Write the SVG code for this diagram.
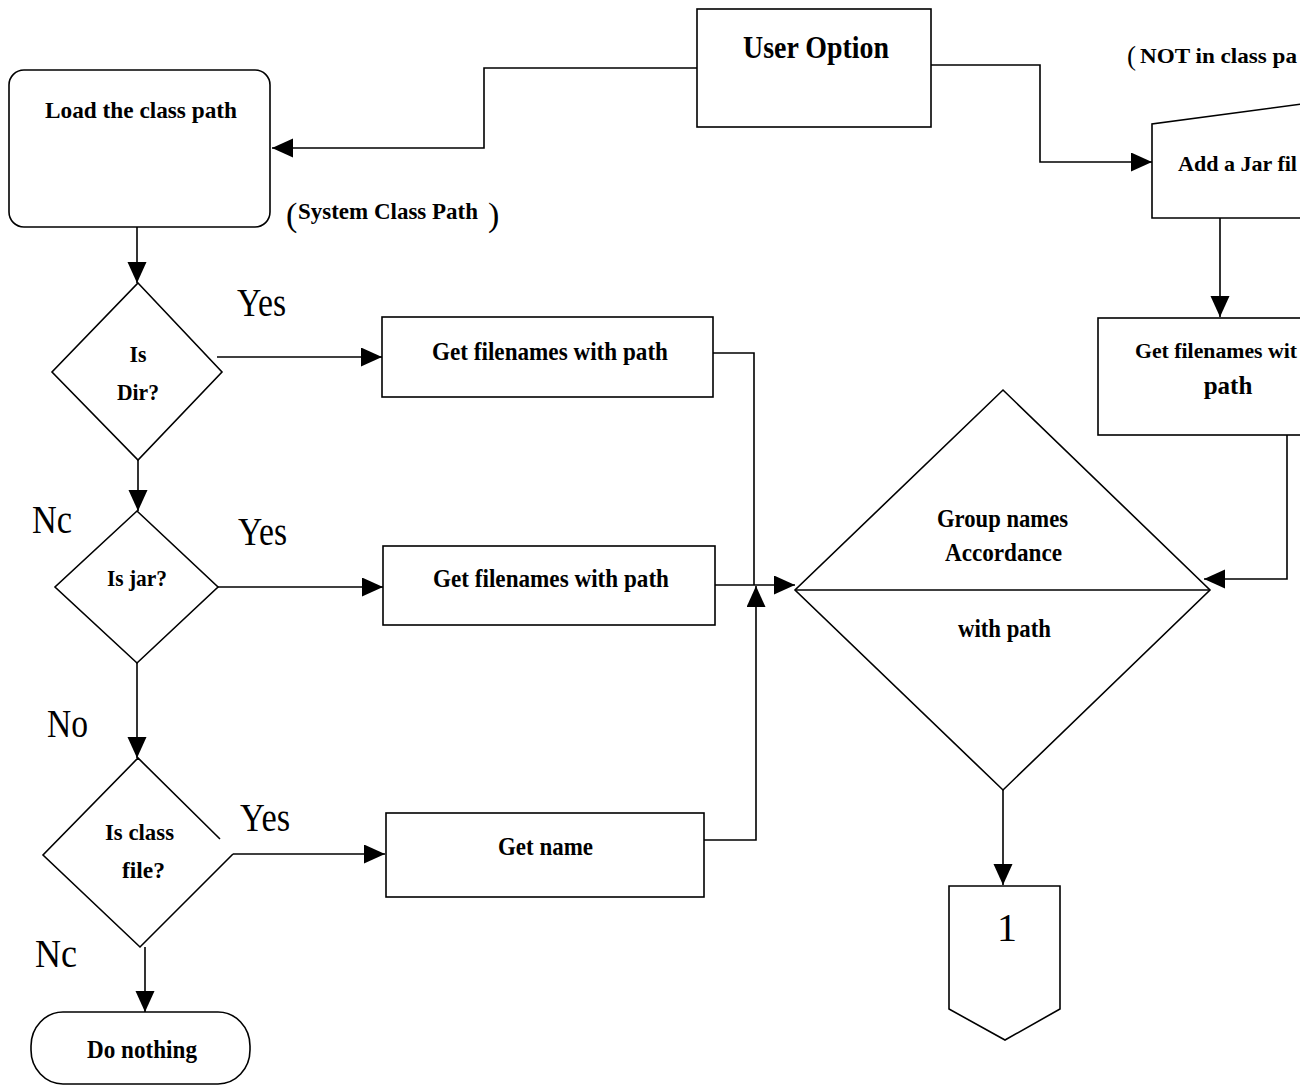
<svg xmlns="http://www.w3.org/2000/svg" width="1300" height="1087" viewBox="0 0 1300 1087">
<style>
.s{fill:none;stroke:#000;stroke-width:1.6}
.n{fill:#fff;stroke:#000;stroke-width:1.6}
.b{font-family:"Liberation Serif","Times New Roman",serif;font-weight:bold;fill:#000}
.r{font-family:"Liberation Serif","Times New Roman",serif;font-weight:normal;fill:#000}
.c{text-anchor:middle}
</style>
<defs>
<marker id="ah" markerUnits="userSpaceOnUse" markerWidth="22" markerHeight="20" refX="21" refY="9.5" orient="auto">
<path d="M0,0 L21,9.5 L0,19 z" fill="#000"/>
</marker>
</defs>
<rect width="1300" height="1087" fill="#fff"/>

<g id="connectors" class="s">
<polyline points="697,68 484,68 484,148 272,148" marker-end="url(#ah)"/>
<polyline points="931,65 1040,65 1040,162 1152,162" marker-end="url(#ah)"/>
<line x1="1220" y1="218" x2="1220" y2="317" marker-end="url(#ah)"/>
<polyline points="1287,435 1287,579 1204,579" marker-end="url(#ah)"/>
<line x1="137" y1="227" x2="137" y2="283" marker-end="url(#ah)"/>
<line x1="217" y1="357" x2="382" y2="357" marker-end="url(#ah)"/>
<line x1="138" y1="460" x2="138" y2="511" marker-end="url(#ah)"/>
<line x1="218" y1="587" x2="383" y2="587" marker-end="url(#ah)"/>
<line x1="137" y1="663" x2="137" y2="758" marker-end="url(#ah)"/>
<line x1="233" y1="854" x2="385" y2="854" marker-end="url(#ah)"/>
<line x1="145" y1="947" x2="145" y2="1012" marker-end="url(#ah)"/>
<polyline points="713,353 754,353 754,585"/>
<line x1="715" y1="585" x2="795" y2="585" marker-end="url(#ah)"/>
<polyline points="704,840 756,840 756,586" marker-end="url(#ah)"/>
<line x1="1003" y1="790" x2="1003" y2="885" marker-end="url(#ah)"/>
</g>

<g id="user-option">
<rect class="n" x="697" y="9" width="234" height="118"/>
<text class="b" x="743" y="58" font-size="31" textLength="146" lengthAdjust="spacingAndGlyphs">User Option</text>
</g>

<g id="not-in-class-path-label">
<text class="r" font-size="27"><tspan x="1127" y="65">(</tspan><tspan class="b" x="1140" y="63" font-size="21" font-weight="bold" textLength="157" lengthAdjust="spacingAndGlyphs">NOT in class pa</tspan></text>
</g>

<g id="load-class-path">
<rect class="n" x="9" y="70" width="261" height="157" rx="15"/>
<text class="b" x="45" y="118" font-size="24" textLength="192" lengthAdjust="spacingAndGlyphs">Load the class path</text>
</g>

<g id="system-class-path-label">
<text class="r" font-size="34"><tspan x="286" y="226">(</tspan><tspan x="298" y="219" font-size="23" font-weight="bold" textLength="180" lengthAdjust="spacingAndGlyphs">System Class Path</tspan><tspan x="488" y="226">)</tspan></text>
</g>

<g id="add-jar-file">
<path class="n" d="M1302,104 L1152,124 L1152,218 L1302,218"/>
<text class="b" x="1178" y="171" font-size="22" textLength="119" lengthAdjust="spacingAndGlyphs">Add a Jar fil</text>
</g>

<g id="get-filenames-right">
<rect class="n" x="1098" y="318" width="260" height="117"/>
<text class="b" x="1135" y="358" font-size="21.5" textLength="162" lengthAdjust="spacingAndGlyphs">Get filenames wit</text>
<text class="b c" x="1228" y="394" font-size="25">path</text>
</g>

<g id="is-dir">
<polygon class="n" points="138,283 222,372 138,460 52,372"/>
<text class="b c" x="138" y="362" font-size="24" textLength="17" lengthAdjust="spacingAndGlyphs">Is</text>
<text class="b c" x="138" y="400" font-size="24" textLength="42" lengthAdjust="spacingAndGlyphs">Dir?</text>
</g>

<g id="is-jar">
<polygon class="n" points="137,511 218,587 137,663 55,587"/>
<text class="b" x="107" y="586" font-size="24" textLength="60" lengthAdjust="spacingAndGlyphs">Is jar?</text>
</g>

<g id="is-class-file">
<polyline class="n" points="220,839 138,758 43,855 140,947 233,854"/>
<text class="b" x="105" y="840" font-size="24" textLength="69" lengthAdjust="spacingAndGlyphs">Is class</text>
<text class="b" x="122" y="878" font-size="24" textLength="43" lengthAdjust="spacingAndGlyphs">file?</text>
</g>

<g id="do-nothing">
<rect class="n" x="31" y="1012" width="219" height="72" rx="32" ry="34"/>
<text class="b" x="87" y="1058" font-size="25" textLength="110" lengthAdjust="spacingAndGlyphs">Do nothing</text>
</g>

<g id="get-filenames-dir">
<rect class="n" x="382" y="317" width="331" height="80"/>
<text class="b" x="432" y="360" font-size="26" textLength="236" lengthAdjust="spacingAndGlyphs">Get filenames with path</text>
</g>

<g id="get-filenames-jar">
<rect class="n" x="383" y="546" width="332" height="79"/>
<text class="b" x="433" y="587" font-size="26" textLength="236" lengthAdjust="spacingAndGlyphs">Get filenames with path</text>
</g>

<g id="get-name">
<rect class="n" x="386" y="813" width="318" height="84"/>
<text class="b" x="498" y="855" font-size="25" textLength="95" lengthAdjust="spacingAndGlyphs">Get name</text>
</g>

<g id="group-names">
<polygon class="n" points="1003,390 1210,590 1003,790 795,590"/>
<line class="s" x1="795" y1="590" x2="1210" y2="590"/>
<text class="b" x="937" y="527" font-size="25" textLength="131" lengthAdjust="spacingAndGlyphs">Group names</text>
<text class="b" x="945" y="561" font-size="25" textLength="117" lengthAdjust="spacingAndGlyphs">Accordance</text>
<text class="b" x="958" y="637" font-size="25" textLength="93" lengthAdjust="spacingAndGlyphs">with path</text>
</g>

<g id="connector-1">
<polygon class="n" points="949,886 1060,886 1060,1009 1005,1040 949,1009"/>
<text class="r c" x="1007" y="941" font-size="40">1</text>
</g>

<g id="labels">
<text class="r" x="237" y="316" font-size="40" textLength="49" lengthAdjust="spacingAndGlyphs">Yes</text>
<text class="r" x="238" y="545" font-size="40" textLength="49" lengthAdjust="spacingAndGlyphs">Yes</text>
<text class="r" x="240" y="831" font-size="40" textLength="50" lengthAdjust="spacingAndGlyphs">Yes</text>
<text class="r" x="32" y="533" font-size="40" textLength="40" lengthAdjust="spacingAndGlyphs">Nc</text>
<text class="r" x="47" y="737" font-size="40" textLength="41" lengthAdjust="spacingAndGlyphs">No</text>
<text class="r" x="35" y="967" font-size="40" textLength="42" lengthAdjust="spacingAndGlyphs">Nc</text>
</g>
</svg>
